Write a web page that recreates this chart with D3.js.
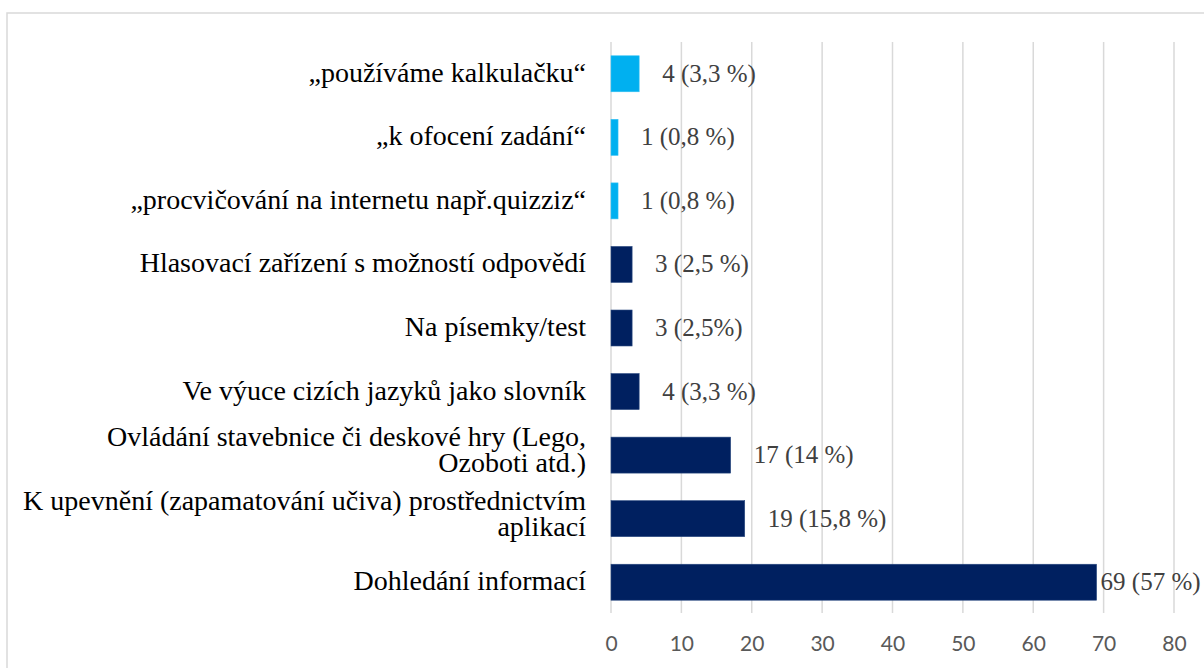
<!DOCTYPE html>
<html>
<head>
<meta charset="utf-8">
<script src="https://cdn.jsdelivr.net/npm/d3@7/dist/d3.min.js"></script>
<style>
  html, body { margin: 0; padding: 0; background: #ffffff; }
  svg { display: block; }
  .serif { font-family: "Liberation Serif", "Times New Roman", Tinos, Times, "DejaVu Serif", serif; }
  .sans { font-family: Lato, "Open Sans", "Liberation Sans", sans-serif; }
</style>
</head>
<body>
<svg id="chart" width="1204" height="668"></svg>
<script>
// ---- data ----
const categories = [
  ["„používáme kalkulačku“"],
  ["„k ofocení zadání“"],
  ["„procvičování na internetu např.quizziz“"],
  ["Hlasovací zařízení s možností odpovědí"],
  ["Na písemky/test"],
  ["Ve výuce cizích jazyků jako slovník"],
  ["Ovládání stavebnice či deskové hry (Lego,", "Ozoboti atd.)"],
  ["K upevnění (zapamatování učiva) prostřednictvím", "aplikací"],
  ["Dohledání informací"]
];
const values = [4, 1, 1, 3, 3, 4, 17, 19, 69];
const valueLabels = ["4 (3,3 %)", "1 (0,8 %)", "1 (0,8 %)", "3 (2,5 %)", "3 (2,5%)", "4 (3,3 %)", "17 (14 %)", "19 (15,8 %)", "69 (57 %)"];
const groups = ["quote", "quote", "quote", "main", "main", "main", "main", "main", "main"];
const xTicks = [0, 10, 20, 30, 40, 50, 60, 70, 80];

// ---- layout ----
const svg = d3.select("#chart");
const plot = { left: 611, right: 1174, top: 42, bottom: 614 };

// chart frame
svg.append("rect")
  .attr("x", 7).attr("y", 13)
  .attr("width", 1220).attr("height", 680)
  .attr("fill", "#ffffff")
  .attr("stroke", "#d9d9d9").attr("stroke-width", 1.5);

const x = d3.scaleLinear().domain([0, 80]).range([plot.left, plot.right]);
const idx = d3.range(categories.length);
const y = d3.scaleBand().domain(idx).range([plot.top, plot.bottom])
  .paddingInner(0.434).paddingOuter(0.217);
const color = d3.scaleOrdinal().domain(["quote", "main"]).range(["#00b0f0", "#002060"]);

// gridlines
svg.append("g").selectAll("line").data(xTicks).join("line")
  .attr("x1", d => x(d)).attr("x2", d => x(d))
  .attr("y1", plot.top).attr("y2", plot.bottom - 1)
  .attr("stroke", "#d9d9d9").attr("stroke-width", 1.5);

// x axis tick labels
const xAxis = d3.axisBottom(x).tickValues(xTicks).tickSize(0).tickPadding(0);
const gx = svg.append("g").attr("transform", `translate(0,${plot.bottom + 22})`).call(xAxis);
gx.select(".domain").remove();
gx.attr("font-family", null).attr("font-size", null);
gx.selectAll("text")
  .attr("class", "sans")
  .style("font-size", "21px")
  .attr("fill", "#595959");

// bars
svg.append("g").selectAll("rect").data(idx).join("rect")
  .attr("x", x(0))
  .attr("y", i => y(i))
  .attr("width", i => x(values[i]) - x(0))
  .attr("height", y.bandwidth())
  .attr("fill", i => color(groups[i]))
  .attr("stroke", i => groups[i] === "main" ? "#2a4a80" : "#33c0f3")
  .attr("stroke-width", 0.6);

// value labels
svg.append("g").selectAll("text").data(idx).join("text")
  .attr("class", "serif")
  .attr("x", i => x(values[i]) + (values[i] > 60 ? 4 : 23))
  .attr("y", i => y(i) + y.bandwidth() / 2 + 8)
  .style("font-size", "25px")
  .attr("fill", "#404040")
  .text(i => valueLabels[i]);

// category labels
const catG = svg.append("g");
idx.forEach(i => {
  const lines = categories[i];
  const cy = y(i) + y.bandwidth() / 2;
  const t = catG.append("text")
    .attr("class", "serif")
    .attr("text-anchor", "end")
    .style("font-size", "28px")
    .attr("fill", "#000000");
  lines.forEach((ln, k) => {
    const base = lines.length === 1 ? cy + 8 : cy - 9 + k * 26;
    t.append("tspan").attr("x", 586).attr("y", base).text(ln);
  });
});
</script>
</body>
</html>
